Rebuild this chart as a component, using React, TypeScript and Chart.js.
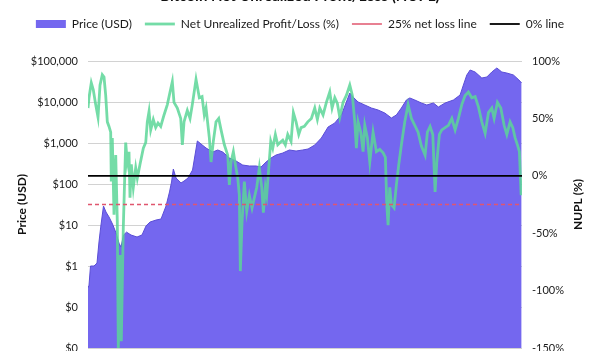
import React, { useEffect, useRef } from "react";
import { Chart, registerables } from "chart.js";

Chart.register(...registerables);

// Time axis in decimal years
const priceYears = [
  2011.0, 2011.027, 2011.067, 2011.16, 2011.24, 2011.293, 2011.339, 2011.413, 2011.48, 2011.56,
  2011.653, 2011.747, 2011.827, 2011.88, 2011.947, 2012.027, 2012.147, 2012.307, 2012.44, 2012.547,
  2012.653, 2012.813, 2012.947, 2013.08, 2013.173, 2013.227, 2013.275, 2013.347, 2013.48, 2013.56,
  2013.667, 2013.787, 2013.853, 2013.915, 2014.013, 2014.147, 2014.325, 2014.459, 2014.592, 2014.768,
  2014.947, 2015.125, 2015.301, 2015.48, 2015.613, 2015.747, 2015.88, 2016.013, 2016.192, 2016.368,
  2016.547, 2016.725, 2016.867, 2017.045, 2017.221, 2017.4, 2017.579, 2017.755, 2017.888, 2017.979,
  2018.067, 2018.2, 2018.379, 2018.555, 2018.733, 2018.912, 2019.088, 2019.221, 2019.355, 2019.488,
  2019.579, 2019.712, 2019.888, 2020.032, 2020.208, 2020.341, 2020.52, 2020.741, 2020.92, 2021.008,
  2021.099, 2021.187, 2021.32, 2021.499, 2021.632, 2021.765, 2021.899, 2022.032, 2022.165, 2022.341,
  2022.488, 2022.56,
];
const priceUSD = [
  0.29, 0.34, 1.0, 1.0, 1.18, 3.85, 8.9, 29, 20.7, 15.7,
  10.6, 6.4, 3.6, 2.9, 5.7, 6.7, 5.7, 5.1, 5.7, 9.5,
  11.8, 13.2, 14, 29, 64, 112, 232, 140, 106, 118,
  140, 219, 509, 1120, 946, 755, 603, 675, 603, 431,
  364, 290, 275, 275, 260, 344, 431, 509, 570, 675,
  638, 675, 714, 893, 1324, 2455, 3076, 4820, 10000, 16600,
  13240, 10000, 8450, 7140, 6380, 5390, 4070, 4820, 7140, 11190,
  12530, 11190, 9460, 8450, 9460, 7550, 9460, 11190, 14820, 26000,
  45600, 60300, 53900, 38500, 40700, 53900, 67500, 53900, 50900, 45600,
  34400, 29100,
];

const nuplYears = [
  2011.0, 2011.027, 2011.088, 2011.141, 2011.205, 2011.267, 2011.32, 2011.381, 2011.427, 2011.472,
  2011.515, 2011.56, 2011.605, 2011.621, 2011.648, 2011.693, 2011.739, 2011.781, 2011.808, 2011.853,
  2011.888, 2011.941, 2012.005, 2012.048, 2012.093, 2012.12, 2012.155, 2012.208, 2012.272, 2012.315,
  2012.387, 2012.475, 2012.539, 2012.581, 2012.627, 2012.672, 2012.741, 2012.805, 2012.867, 2012.939,
  2013.027, 2013.115, 2013.187, 2013.248, 2013.293, 2013.381, 2013.472, 2013.515, 2013.56, 2013.648,
  2013.72, 2013.781, 2013.88, 2013.968, 2014.04, 2014.101, 2014.147, 2014.235, 2014.28, 2014.341,
  2014.413, 2014.485, 2014.547, 2014.635, 2014.725, 2014.768, 2014.813, 2014.875, 2014.928, 2014.992,
  2015.035, 2015.061, 2015.107, 2015.168, 2015.232, 2015.301, 2015.373, 2015.435, 2015.499, 2015.568,
  2015.632, 2015.675, 2015.728, 2015.765, 2015.819, 2015.872, 2015.925, 2015.995, 2016.059, 2016.12,
  2016.192, 2016.261, 2016.325, 2016.413, 2016.475, 2016.547, 2016.619, 2016.68, 2016.768, 2016.859,
  2016.955, 2017.045, 2017.115, 2017.179, 2017.267, 2017.355, 2017.445, 2017.507, 2017.579, 2017.648,
  2017.712, 2017.8, 2017.888, 2017.979, 2018.048, 2018.112, 2018.155, 2018.2, 2018.272, 2018.333,
  2018.379, 2018.448, 2018.512, 2018.6, 2018.688, 2018.779, 2018.867, 2018.928, 2018.965, 2019.0,
  2019.045, 2019.088, 2019.16, 2019.221, 2019.285, 2019.355, 2019.445, 2019.533, 2019.621, 2019.712,
  2019.8, 2019.888, 2019.987, 2020.048, 2020.12, 2020.192, 2020.253, 2020.299, 2020.368, 2020.432,
  2020.52, 2020.608, 2020.699, 2020.787, 2020.875, 2020.965, 2021.053, 2021.141, 2021.232, 2021.32,
  2021.408, 2021.499, 2021.587, 2021.675, 2021.765, 2021.827, 2021.915, 2022.005, 2022.093, 2022.165,
  2022.253, 2022.325, 2022.387, 2022.448, 2022.501, 2022.547,
];
const nuplPct = [
  59, 68, 81, 75, 62, 51, 79, 88, 86, 70,
  47, 43, 38, -5, 33, -34, 18, -40, -150, -69,
  -144, -45, 29, 12, 21, -19, 10, -10, 7, -2,
  10, 24, 29, 47, 56, 40, 49, 42, 46, 43,
  53, 62, 73, 82, 64, 59, 50, 27, 47, 57,
  50, 62, 84, 68, 69, 53, 59, 33, 12, 30,
  47, 50, 40, 27, 18, -8, 12, 21, 10, -2,
  -17, -83, -40, -5, -31, -17, -28, -19, -10, 7,
  -10, -32, -10, -17, 7, 30, 24, 36, 27, 29,
  31, 27, 36, 30, 55, 47, 36, 42, 43, 47,
  50, 59, 49, 59, 53, 64, 73, 59, 68, 63,
  51, 64, 70, 79, 70, 47, 24, 47, 38, 21,
  44, 33, 12, 38, 21, 23, 20, 16, -25, -43,
  -10, -25, -28, -8, 10, 27, 47, 62, 50, 44,
  38, 26, 18, 38, 43, 36, -14, 12, 36, 40,
  42, 44, 50, 40, 50, 62, 70, 73, 68, 69,
  60, 47, 37, 55, 59, 50, 64, 59, 44, 36,
  47, 42, 33, 27, 21, -17,
];

const xStart = 2011.0;
const xEnd = 2022.57;
const netLossLevel = -25;
const zeroLevel = 0;

const priceTicks = [0.01, 0.1, 1, 10, 100, 1000, 10000, 100000];
const nuplMin = -150;
const nuplMax = 100;
const nuplStep = 50;

const legendLabels = ["Price (USD)", "Net Unrealized Profit/Loss (%)", "25% net loss line", "0% line"];
const titleText = "Bitcoin Net Unrealized Profit/Loss (NUPL)";
const leftAxisTitle = "Price (USD)";
const rightAxisTitle = "NUPL (%)";

const FONT = "Lato, 'Noto Sans', sans-serif";
const CANVAS_W = 600;
const CANVAS_H = 367;
const CANVAS_TOP = -16;

const rightTitlePlugin = {
  id: "rightTitle",
  afterDraw(chart: any) {
    const s = chart.scales.y1;
    const ca = chart.chartArea;
    const ctx = chart.ctx;
    ctx.save();
    ctx.translate(s.right - 22, (ca.top + ca.bottom) / 2);
    ctx.rotate(-Math.PI / 2);
    ctx.font = `bold 12px ${FONT}`;
    ctx.fillStyle = "#111";
    ctx.textAlign = "center";
    ctx.textBaseline = "middle";
    ctx.fillText(rightAxisTitle, 0, 0);
    ctx.restore();
  },
};

export default function App() {
  const ref = useRef<HTMLCanvasElement | null>(null);

  useEffect(() => {
    document.documentElement.style.overflow = "hidden";
    document.body.style.overflow = "hidden";
    if (!ref.current) return;
    Chart.defaults.font.family = FONT;
    Chart.defaults.color = "#1a1a1a";

    const pricePts = priceYears.map((x, i) => ({ x, y: priceUSD[i] }));
    const nuplPts = nuplYears.map((x, i) => ({ x, y: nuplPct[i] }));

    const chart = new Chart(ref.current, {
      type: "line",
      data: {
        datasets: [
          {
            label: legendLabels[0],
            data: pricePts,
            yAxisID: "y",
            fill: "start",
            backgroundColor: "#7467ef",
            borderColor: "#5a4dd6",
            borderWidth: 1,
            pointRadius: 0,
            pointStyle: "rect",
            tension: 0,
            order: 4,
          },
          {
            label: legendLabels[1],
            data: nuplPts,
            yAxisID: "y1",
            fill: false,
            borderColor: "rgba(92, 214, 152, 0.85)",
            backgroundColor: "rgba(92, 214, 152, 0.85)",
            borderWidth: 2.8,
            pointRadius: 0,
            pointStyle: "line",
            tension: 0,
            order: 3,
          },
          {
            label: legendLabels[2],
            data: [
              { x: xStart, y: netLossLevel },
              { x: xEnd, y: netLossLevel },
            ],
            yAxisID: "y1",
            fill: false,
            borderColor: "#e0566e",
            backgroundColor: "#e0566e",
            borderWidth: 1.5,
            borderDash: [4, 3],
            pointRadius: 0,
            pointStyle: "line",
            order: 2,
          },
          {
            label: legendLabels[3],
            data: [
              { x: xStart, y: zeroLevel },
              { x: xEnd, y: zeroLevel },
            ],
            yAxisID: "y1",
            fill: false,
            borderColor: "#000000",
            backgroundColor: "#000000",
            borderWidth: 1.8,
            pointRadius: 0,
            pointStyle: "line",
            order: 1,
          },
        ],
      },
      options: {
        responsive: false,
        animation: false,
        devicePixelRatio: 1,
        layout: { padding: { top: 0, left: 0, right: 0, bottom: 3 } },
        plugins: {
          tooltip: { enabled: false },
          title: {
            display: true,
            text: titleText,
            font: { size: 15, weight: "bold" },
            color: "#111",
            padding: { top: 3, bottom: 0 },
          },
          subtitle: {
            display: true,
            text: "",
            weight: 500,
            font: { size: 15 },
            padding: { top: 0, bottom: 3 },
          },
          legend: {
            display: true,
            labels: {
              usePointStyle: true,
              pointStyleWidth: 30,
              boxWidth: 24,
              boxHeight: 8,
              padding: 13,
              font: { size: 12 },
              color: "#1a1a1a",
              sort: (a: any, b: any) => a.datasetIndex - b.datasetIndex,
              generateLabels: (c: any) => {
                const items = (Chart.defaults.plugins.legend.labels as any).generateLabels(c);
                items.forEach((it: any) => {
                  if (it.datasetIndex === 0) it.lineWidth = 0;
                });
                return items;
              },
            },
          },
        },
        scales: {
          x: {
            type: "linear",
            min: xStart,
            max: xEnd,
            display: false,
          },
          y: {
            type: "logarithmic",
            position: "left",
            min: priceTicks[0],
            max: priceTicks[priceTicks.length - 1],
            afterBuildTicks: (scale: any) => {
              scale.ticks = priceTicks.map((v) => ({ value: v }));
            },
            afterFit: (scale: any) => {
              scale.width = 88;
              scale.paddingTop = 0;
              scale.paddingBottom = 0;
            },
            ticks: {
              padding: 10,
              font: { size: 11 },
              color: "#1a1a1a",
              callback: (v: any) => "$" + Math.round(Number(v)).toLocaleString("en-US"),
            },
            grid: { color: "#d2d2d2", lineWidth: 1, drawTicks: false },
            border: { display: false },
            title: {
              display: true,
              text: leftAxisTitle,
              font: { size: 12, weight: "bold" },
              color: "#111",
              padding: { top: 15, bottom: 0 },
            },
          },
          y1: {
            type: "linear",
            position: "right",
            min: nuplMin,
            max: nuplMax,
            afterFit: (scale: any) => {
              scale.width = 78;
              scale.paddingTop = 0;
              scale.paddingBottom = 0;
            },
            ticks: {
              stepSize: nuplStep,
              padding: 10,
              font: { size: 11 },
              color: "#1a1a1a",
              callback: (v: any) => `${v}%`,
            },
            grid: { drawOnChartArea: false, drawTicks: false },
            border: { display: false },
          },
        },
      },
      plugins: [rightTitlePlugin],
    } as any);

    return () => chart.destroy();
  }, []);

  return (
    <div style={{ position: "fixed", left: 0, top: CANVAS_TOP, width: CANVAS_W, height: CANVAS_H, overflow: "hidden", background: "#fff" }}>
      <canvas ref={ref} width={CANVAS_W} height={CANVAS_H} style={{ display: "block", width: CANVAS_W, height: CANVAS_H }} />
    </div>
  );
}
